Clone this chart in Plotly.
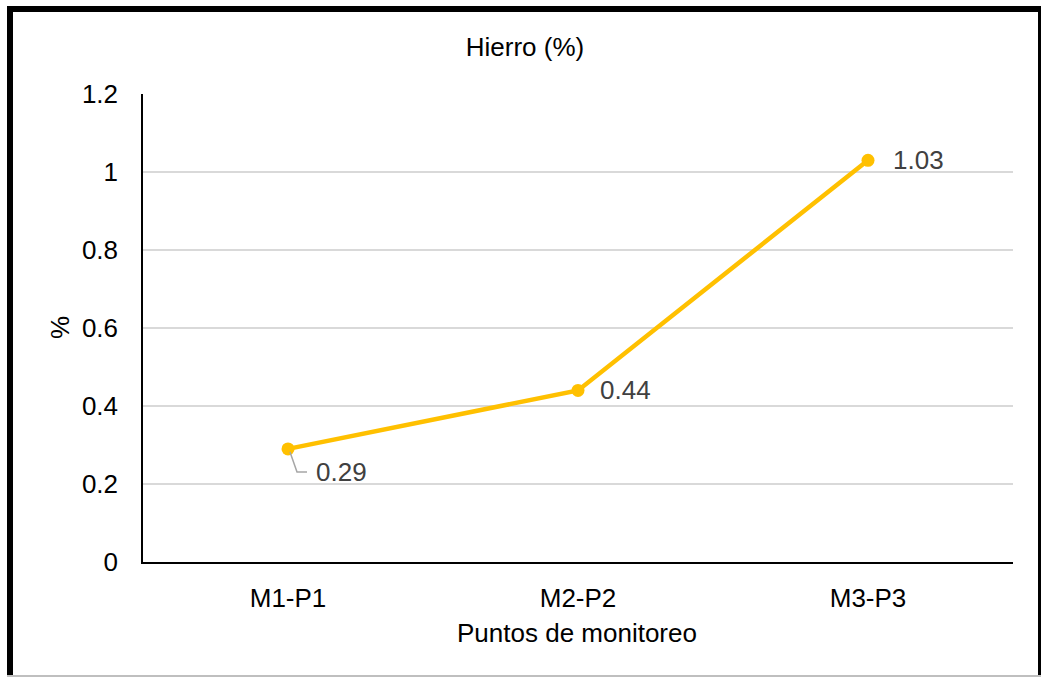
import plotly.graph_objects as go

# Iron content per monitoring point
puntos = ["M1-P1", "M2-P2", "M3-P3"]
hierro = [0.29, 0.44, 1.03]
y_ticks = [0, 0.2, 0.4, 0.6, 0.8, 1, 1.2]
y_ticktext = ["0", "0.2", "0.4", "0.6", "0.8", "1", "1.2"]

W, H = 1042, 677
L, R, T, B = 143, 1013, 94, 562  # plot area in pixels
FONT = "Liberation Sans, Arial, sans-serif"
GOLD = "#FFC000"
FS = 26


def px_x(px):
    return (px - L) / (R - L)


def px_y(py):
    return (B - py) / (B - T)


fig = go.Figure()
fig.add_trace(go.Scatter(
    x=puntos, y=hierro, mode="lines+markers",
    line=dict(color=GOLD, width=4.5),
    marker=dict(color=GOLD, size=13),
    hoverinfo="x+y", showlegend=False,
))

# data labels: (dx, dy) pixel offsets of the label's left/center from the point
offsets = [(26, -23), (20, 0), (23, 0)]
for cat, val, (dx, dy) in zip(puntos, hierro, offsets):
    fig.add_annotation(
        x=cat, y=val, text=f"{val:.2f}", showarrow=False,
        xanchor="left", yanchor="middle", xshift=dx, yshift=dy,
        font=dict(family=FONT, size=FS, color="#404040"),
    )

# leader line for the first label
fig.add_shape(
    type="path", xref="x", yref="y", xsizemode="pixel", ysizemode="pixel",
    xanchor=puntos[0], yanchor=hierro[0],
    path="M 2,-3 L 9,-23 L 19,-23",
    line=dict(color="#a6a6a6", width=1.5),
)

# axis titles
fig.add_annotation(
    xref="paper", yref="paper", x=px_x(577), y=px_y(633),
    text="Puntos de monitoreo", showarrow=False,
    xanchor="center", yanchor="middle",
    font=dict(family=FONT, size=FS, color="#000000"),
)
fig.add_annotation(
    xref="paper", yref="paper", x=px_x(60), y=px_y(328),
    text="%", showarrow=False, textangle=-90,
    xanchor="center", yanchor="middle",
    font=dict(family=FONT, size=FS, color="#000000"),
)

# outer frame
frame = [
    (7, 6, 13, 676, "#000000"),      # left
    (7, 6, 1041, 12, "#000000"),     # top
    (1038, 6, 1041, 676, "#000000"), # right
    (7, 675, 1041, 677, "#bfbfbf"),  # bottom
]
for x0, y0, x1, y1, col in frame:
    fig.add_shape(
        type="rect", xref="paper", yref="paper", layer="above",
        x0=px_x(x0), x1=px_x(x1), y0=px_y(y0), y1=px_y(y1),
        fillcolor=col, line=dict(width=0),
    )

fig.update_layout(
    width=W, height=H,
    margin=dict(l=L, r=W - R, t=T, b=H - B, pad=0),
    paper_bgcolor="white", plot_bgcolor="white",
    title=dict(
        text="Hierro (%)", x=525 / W, xanchor="center",
        y=1 - 47 / H, yanchor="middle", yref="container",
        font=dict(family=FONT, size=FS, color="#000000"),
    ),
    xaxis=dict(
        type="category", range=[-0.5, 2.5],
        showgrid=False, showline=True, linecolor="#000000", linewidth=1.5,
        ticks="", ticklabelstandoff=12,
        tickfont=dict(family=FONT, size=FS, color="#000000"),
        fixedrange=True,
    ),
    yaxis=dict(
        range=[0, 1.2], tickvals=y_ticks, ticktext=y_ticktext,
        showgrid=True, gridcolor="#d9d9d9", gridwidth=1.5,
        showline=True, linecolor="#000000", linewidth=1.5,
        zeroline=False, ticks="", ticklabelstandoff=18,
        tickfont=dict(family=FONT, size=FS, color="#000000"),
        fixedrange=True,
    ),
)

fig.write_html("out.html")
